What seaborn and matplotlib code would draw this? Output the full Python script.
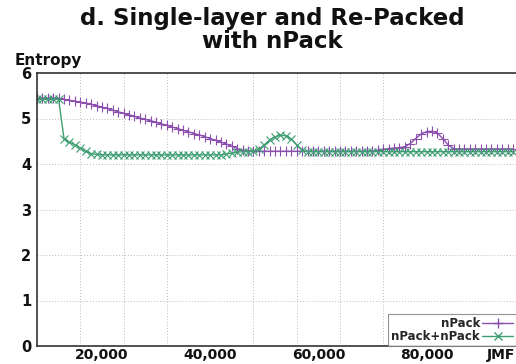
import numpy as np
import pandas as pd
import matplotlib
matplotlib.use("Agg")
import matplotlib.pyplot as plt
from matplotlib.ticker import FixedLocator, FuncFormatter
from matplotlib.lines import Line2D
import seaborn as sns

# ---- data ----
x_values = np.arange(8000, 97000, 1000)  # JMF

npack = [5.45, 5.45, 5.45, 5.45, 5.44, 5.42, 5.40, 5.38, 5.36, 5.34,   # 8k-17k
         5.31, 5.28, 5.25, 5.22, 5.18, 5.15, 5.11, 5.08, 5.05, 5.01,   # 18k-27k
         4.98, 4.95, 4.92, 4.88, 4.85, 4.81, 4.78, 4.74, 4.71, 4.67,   # 28k-37k
         4.64, 4.60, 4.56, 4.52, 4.48, 4.44, 4.39, 4.34, 4.30, 4.29,   # 38k-47k
         4.28, 4.28, 4.28, 4.28, 4.28, 4.28, 4.28, 4.28, 4.28, 4.28,   # 48k-57k
         4.28, 4.28, 4.28, 4.28, 4.28, 4.28, 4.28, 4.28, 4.28, 4.28,   # 58k-67k
         4.28, 4.28, 4.29, 4.30, 4.32, 4.34, 4.35, 4.36, 4.38, 4.45,   # 68k-77k
         4.56, 4.66, 4.71, 4.72, 4.68, 4.56, 4.42, 4.34, 4.33, 4.33,   # 78k-87k
         4.33, 4.33, 4.33, 4.33, 4.33, 4.33, 4.33, 4.33, 4.33]         # 88k-96k

npack_npack = [5.42, 5.42, 5.42, 5.42, 5.42, 4.55, 4.48, 4.42, 4.35, 4.28,  # 8k-17k
               4.23, 4.21, 4.20, 4.20, 4.20, 4.20, 4.20, 4.20, 4.20, 4.20,  # 18k-27k
               4.20, 4.20, 4.20, 4.20, 4.20, 4.20, 4.20, 4.20, 4.20, 4.20,  # 28k-37k
               4.20, 4.20, 4.20, 4.20, 4.20, 4.22, 4.24, 4.26, 4.27, 4.27,  # 38k-47k
               4.28, 4.32, 4.42, 4.53, 4.60, 4.63, 4.62, 4.55, 4.42, 4.30,  # 48k-57k
               4.27, 4.27, 4.27, 4.27, 4.27, 4.27, 4.27, 4.27, 4.27, 4.27,  # 58k-67k
               4.27, 4.27, 4.27, 4.27, 4.27, 4.27, 4.27, 4.27, 4.27, 4.27,  # 68k-77k
               4.27, 4.27, 4.27, 4.27, 4.27, 4.27, 4.27, 4.27, 4.27, 4.27,  # 78k-87k
               4.27, 4.27, 4.27, 4.27, 4.27, 4.27, 4.27, 4.27, 4.27]        # 88k-96k

series_names = ["nPack", "nPack+nPack"]
x_tick_values = [20000, 40000, 60000, 80000]
y_tick_values = [0, 1, 2, 3, 4, 5, 6]
title_text = "d. Single-layer and Re-Packed\nwith nPack"
y_label_text = "Entropy"
x_label_text = "JMF"

purple = "#8b4fae"
green = "#3e9e72"

sns.set_theme(style="white")
plt.rcParams["font.family"] = ["DejaVu Sans"]
plt.rcParams["font.weight"] = "bold"

fig = plt.figure(figsize=(5.16, 3.64), dpi=100)
W, H = 516, 364
ax = fig.add_axes([37 / W, (H - 346) / H, (W - 37) / W, (346 - 73) / H])

sns.lineplot(x=x_values, y=npack, ax=ax, color=purple, marker="+",
             markersize=7, markeredgewidth=0.8, markeredgecolor=purple,
             linewidth=1.0, label=None)
sns.lineplot(x=x_values, y=npack_npack, ax=ax, color=green, marker="x",
             markersize=5.5, markeredgewidth=0.8, markeredgecolor=green,
             linewidth=1.0, label=None)

ax.set_xlim(8000, 8000 + (W - 37) / 5.41 * 1000)
ax.set_ylim(0, 6)

ax.xaxis.set_major_locator(FixedLocator(x_tick_values))
ax.xaxis.set_major_formatter(FuncFormatter(lambda v, p: f"{int(v):,}"))
ax.xaxis.set_minor_locator(FixedLocator(np.arange(16000, 80000, 8000)))
ax.yaxis.set_major_locator(FixedLocator(y_tick_values))

ax.grid(False)
ax.grid(which="minor", axis="x", color="#bbbbbb", linestyle=(0, (1, 2)), linewidth=0.7)
ax.grid(which="major", axis="y", color="#bbbbbb", linestyle=(0, (1, 2)), linewidth=0.7)

ax.tick_params(axis="x", which="major", length=0, pad=1.5, labelsize=10, colors="#111111")
ax.tick_params(axis="x", which="minor", direction="in", length=3, color="#444444")
ax.tick_params(axis="y", which="major", direction="in", length=3, pad=4,
               labelsize=10.5, colors="#111111")
for lab in ax.get_xticklabels() + ax.get_yticklabels():
    lab.set_fontweight("bold")

for side in ["left", "bottom", "top"]:
    ax.spines[side].set_visible(True)
    ax.spines[side].set_color("#333333")
    ax.spines[side].set_linewidth(1.2)
ax.spines["right"].set_visible(False)

ax.set_xlabel("")
ax.set_ylabel("")

fig.text(272 / W, 1 - 30 / H, title_text, ha="center", va="center",
         fontsize=16.5, fontweight="bold", color="#111111", linespacing=1.0)
fig.text(15 / W, 1 - 61 / H, y_label_text, ha="left", va="center",
         fontsize=11, fontweight="bold", color="#111111")
fig.text(487 / W, 1 - 355 / H, x_label_text, ha="left", va="center",
         fontsize=10, fontweight="bold", color="#111111")

handles = [Line2D([], [], color=purple, marker="+", markersize=7, linewidth=1.0),
           Line2D([], [], color=green, marker="x", markersize=5.5, linewidth=1.0)]
leg = ax.legend(handles, series_names, loc="lower right", markerfirst=False,
                frameon=True, fancybox=False, borderaxespad=0,
                handlelength=2.6, handletextpad=0.2, labelspacing=0.0,
                borderpad=0.25, prop={"weight": "bold", "size": 8.5})
leg.get_frame().set_edgecolor("#777777")
leg.get_frame().set_linewidth(0.8)
for t in leg.get_texts():
    t.set_ha("right")

fig.savefig("out.png", dpi=100)
